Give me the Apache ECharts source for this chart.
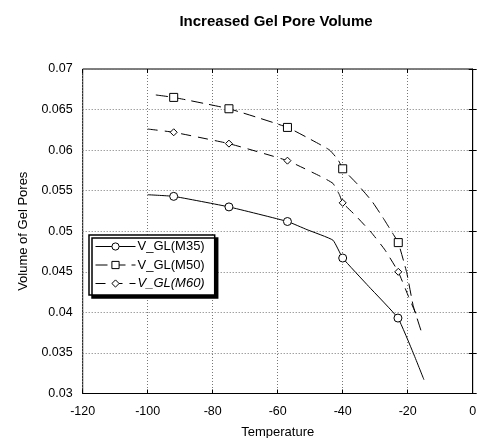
<!DOCTYPE html>
<html>
<head>
<meta charset="utf-8">
<script src="https://cdn.jsdelivr.net/npm/echarts@6/dist/echarts.min.js"></script>
<style>
  html, body { margin: 0; padding: 0; background: #fff; }
  #chart { width: 492px; height: 438px; }
</style>
</head>
<body>
<div id="chart"></div>
<script>
// curve points, plus which of them carry a marker
var m35X = [-100, -92, -75, -57, -51, -43, -40, -32, -23, -18.3, -15];
var m35Y = [0.0545, 0.0543, 0.0530, 0.0512, 0.0502, 0.0489, 0.0467, 0.0432, 0.0393, 0.0350, 0.0317];
var m35Marks = [-92, -75, -57, -40, -23];

var m50X = [-97.5, -92, -75, -57, -47, -44, -41.4, -40, -35.7, -31, -27.5, -24.4, -22.9, -20.3, -18.3, -15.7];
var m50Y = [0.0668, 0.0665, 0.0651, 0.0628, 0.0607, 0.0600, 0.0588, 0.0577, 0.0559, 0.0537, 0.0516, 0.0496, 0.0486, 0.0449, 0.0408, 0.0375];
var m50Marks = [-92, -75, -57, -40, -22.9];

var m60X = [-100, -92, -75, -57, -46, -43, -41, -40, -36.2, -31.1, -27, -22.9, -19.8, -16.7];
var m60Y = [0.0626, 0.0622, 0.0608, 0.0587, 0.0566, 0.0559, 0.0545, 0.0535, 0.0520, 0.0498, 0.0477, 0.0450, 0.0420, 0.0391];
var m60Marks = [-92, -75, -57, -40, -22.9];

var xTicks = [-120, -100, -80, -60, -40, -20, 0];
var yTicks = [0.03, 0.035, 0.04, 0.045, 0.05, 0.055, 0.06, 0.065, 0.07];

var FONT = 'Liberation Sans, Arial, sans-serif';

function buildData(xs, ys, marks) {
    return xs.map(function (x, i) {
        var item = { value: [x, ys[i]] };
        if (marks.indexOf(x) < 0) item.symbol = 'none';
        return item;
    });
}

var chart = echarts.init(document.getElementById('chart'));

var hiddenAxis = {
    show: true,
    axisLine: { show: false },
    axisLabel: { show: false },
    splitLine: { show: false },
    axisTick: { show: true, inside: true, length: 4, lineStyle: { color: '#000' } }
};

var markerStyle = { color: '#fff', borderColor: '#000', borderWidth: 1 };

var option = {
    animation: false,
    backgroundColor: '#fff',
    title: {
        text: 'Increased Gel Pore Volume',
        left: 271,
        top: 9,
        textAlign: 'center',
        textStyle: { fontFamily: FONT, fontSize: 15, fontWeight: 'bold', color: '#000' }
    },
    grid: {
        left: 82.7, right: 19.3, top: 69, bottom: 44.5,
        containLabel: false,
        outerBoundsMode: 'none',
        show: true, borderColor: '#000', borderWidth: 1, backgroundColor: '#fff'
    },
    legend: {
        orient: 'vertical',
        left: 89,
        top: 235,
        itemWidth: 40,
        itemHeight: 9,
        itemGap: 5.5,
        padding: [5, 10, 5, 6],
        backgroundColor: '#fff',
        borderColor: '#000',
        borderWidth: 1.5,
        shadowColor: '#000',
        shadowBlur: 0,
        shadowOffsetX: 3,
        shadowOffsetY: 3,
        itemStyle: { borderWidth: 1 },
        lineStyle: { width: 1 },
        textStyle: { fontFamily: FONT, fontSize: 13, color: '#000', padding: [0, 0, 0, -3] },
        data: [
            { name: 'V_GL(M35)' },
            { name: 'V_GL(M50)' },
            { name: 'V_GL(M60)', textStyle: { fontStyle: 'italic' } }
        ]
    },
    xAxis: [{
        type: 'value',
        min: -120, max: 0, interval: 20,
        name: 'Temperature',
        nameLocation: 'middle',
        nameGap: 32,
        nameTextStyle: { fontFamily: FONT, fontSize: 13, color: '#000' },
        axisLine: { show: true, onZero: false, lineStyle: { color: '#000' } },
        axisTick: { inside: true, length: 4, lineStyle: { color: '#000' } },
        axisLabel: {
            fontFamily: FONT, fontSize: 12.5, color: '#000', margin: 12,
            formatter: function (v) { return xTicks.indexOf(v) >= 0 ? String(v) : ''; }
        },
        splitLine: { show: true, lineStyle: { color: '#777', type: [1, 2], width: 1 } }
    }, echarts.util.merge({ type: 'value', min: -120, max: 0, interval: 20, position: 'top' }, hiddenAxis)],
    yAxis: [{
        type: 'value',
        min: 0.03, max: 0.07, interval: 0.005,
        name: 'Volume of Gel Pores',
        nameLocation: 'middle',
        nameGap: 53,
        nameTextStyle: { fontFamily: FONT, fontSize: 13, color: '#000' },
        axisLine: { show: true, lineStyle: { color: '#000' } },
        axisTick: { inside: true, length: 4, lineStyle: { color: '#000' } },
        axisLabel: {
            fontFamily: FONT, fontSize: 12.5, color: '#000', margin: 10,
            formatter: function (v) { return String(+v.toFixed(3)); }
        },
        splitLine: { show: true, lineStyle: { color: '#777', type: [1, 2], width: 1 } }
    }, echarts.util.merge({ type: 'value', min: 0.03, max: 0.07, interval: 0.005, position: 'right' }, hiddenAxis)],
    series: [{
        name: 'V_GL(M35)',
        type: 'line',
        smooth: 0.12,
        symbol: 'circle',
        symbolSize: 8,
        itemStyle: markerStyle,
        lineStyle: { color: '#000', width: 1 },
        data: buildData(m35X, m35Y, m35Marks)
    }, {
        name: 'V_GL(M50)',
        type: 'line',
        smooth: 0.12,
        symbol: 'rect',
        symbolSize: 8,
        itemStyle: markerStyle,
        lineStyle: { color: '#000', width: 1, type: [12, 6] },
        data: buildData(m50X, m50Y, m50Marks)
    }, {
        name: 'V_GL(M60)',
        type: 'line',
        smooth: 0.12,
        symbol: 'diamond',
        symbolSize: 7,
        itemStyle: markerStyle,
        lineStyle: { color: '#000', width: 1, type: [10, 7] },
        data: buildData(m60X, m60Y, m60Marks)
    }]
};

chart.setOption(option);
</script>
</body>
</html>
